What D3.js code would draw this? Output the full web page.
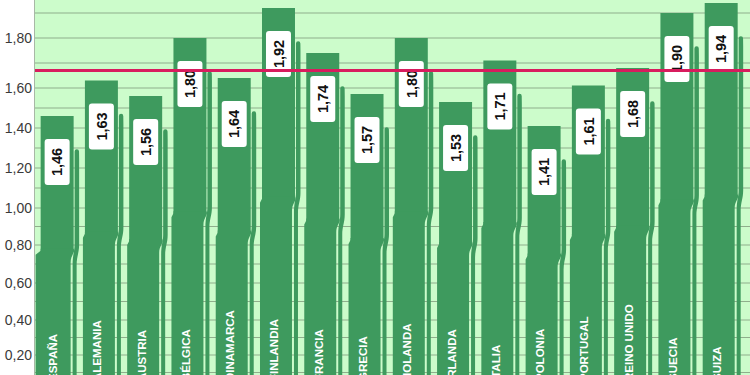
<!DOCTYPE html>
<html>
<head>
<meta charset="utf-8">
<script src="https://cdn.jsdelivr.net/npm/d3@7"></script>
<style>
  html, body { margin: 0; padding: 0; background: #fff; }
  #chart { width: 750px; height: 375px; overflow: hidden; }
  text { font-family: "Liberation Sans", Arial, sans-serif; }
</style>
</head>
<body>
<div id="chart"></div>
<script>
// data
const countries = ["ESPAÑA", "ALEMANIA", "AUSTRIA", "BÉLGICA", "DINAMARCA", "FINLANDIA",
  "FRANCIA", "GRECIA", "HOLANDA", "IRLANDA", "ITALIA", "POLONIA", "PORTUGAL",
  "REINO UNIDO", "SUECIA", "SUIZA"];
const values = [1.46, 1.63, 1.56, 1.80, 1.64, 1.92, 1.74, 1.57, 1.80, 1.53, 1.71,
  1.41, 1.61, 1.68, 1.90, 1.94];
const average = 1.67;
const yTicks = [0.2, 0.4, 0.6, 0.8, 1.0, 1.2, 1.4, 1.6, 1.8];

const width = 750, height = 375;
const fmt = (v) => d3.format(".2f")(v).replace(".", ",");

const svg = d3.select("#chart").append("svg")
  .attr("width", width).attr("height", height);

// the source axis is not evenly spaced, so the scale is piecewise
const y = d3.scaleLinear()
  .domain([0, 0.2, 0.4, 0.6, 0.8, 1.0, 1.2, 1.4, 1.6, 1.8, 2.0])
  .range([390, 355, 320, 283, 245, 208, 168, 128, 88, 38, -12]);

const x = d3.scaleBand()
  .domain(countries)
  .range([35, 35 + 16 * 44.27])
  .paddingInner(0.255)
  .paddingOuter(0.1275);

const bw = x.bandwidth();
const bottom = height;

// plot background
svg.append("rect")
  .attr("x", 34).attr("y", 0)
  .attr("width", width - 34).attr("height", height)
  .attr("fill", "#ccfccb");

// grid every 0.1
const gridVals = d3.range(1, 20).map((i) => i / 10);
svg.append("g").selectAll("line")
  .data(gridVals)
  .join("line")
  .attr("x1", 35).attr("x2", width)
  .attr("y1", (d) => y(d)).attr("y2", (d) => y(d))
  .attr("stroke", "#8fae8c").attr("stroke-width", 1);

svg.append("line")
  .attr("x1", 34.5).attr("x2", 34.5).attr("y1", 0).attr("y2", height)
  .attr("stroke", "#a8b8a6");

// y axis labels
const yAxis = d3.axisLeft(y).tickValues(yTicks).tickFormat(fmt).tickSize(0).tickPadding(3);
const gy = svg.append("g").attr("transform", "translate(35,0)").call(yAxis);
gy.select(".domain").remove();
gy.selectAll("text")
  .attr("font-size", 14)
  .attr("fill", "#3a3a3a")
  .attr("font-family", "Liberation Sans, Arial, sans-serif");

const green = "#3e9a5e";
const rows = countries.map((c, i) => ({ name: c, value: values[i] }));
const neckOf = (T) => T + 0.52 * (bottom - T);

const barGroup = svg.append("g").selectAll(".barGroup")
  .data(rows)
  .join("g")
  .attr("class", "barGroup");

// shadow strip right of each bar, bending in half-way down
barGroup.append("path")
  .attr("fill", green)
  .attr("d", (d) => {
    const L = x(d.name), R = L + bw, T = y(d.value);
    const top = T + 33;
    const neck = neckOf(T);
    const p = d3.path();
    p.moveTo(R - 1, bottom);
    p.lineTo(R - 1, neck + 14);
    p.bezierCurveTo(R - 1, neck + 4, R + 1, neck, R + 1, neck - 6);
    p.lineTo(R + 1, top + 2.5);
    p.arc(R + 3.2, top + 2.5, 2.2, Math.PI, 0);
    p.lineTo(R + 5.5, top + 10);
    p.lineTo(R + 5.5, neck - 6);
    p.bezierCurveTo(R + 5.5, neck + 2, R + 3, neck + 6, R + 3, neck + 14);
    p.lineTo(R + 3, bottom);
    p.closePath();
    return p.toString();
  });

// upper part of the bar
barGroup.append("rect")
  .attr("x", (d) => x(d.name))
  .attr("y", (d) => y(d.value))
  .attr("width", bw)
  .attr("height", (d) => neckOf(y(d.value)) - y(d.value) + 1)
  .attr("fill", green);

// lower, shifted part of the bar
barGroup.append("path")
  .attr("fill", green)
  .attr("d", (d) => {
    const L = x(d.name), R = L + bw, T = y(d.value);
    const neck = neckOf(T);
    const lx = d.name === countries[0] ? L - 5 : L - 2;
    const p = d3.path();
    p.moveTo(lx, bottom);
    p.lineTo(lx, neck + 4);
    p.lineTo(L, neck);
    p.lineTo(L, neck - 2);
    p.lineTo(R, neck - 2);
    p.bezierCurveTo(R + 2, neck + 2, R - 3, neck + 4, R - 3, neck + 12);
    p.lineTo(R - 3, bottom);
    p.closePath();
    return p.toString();
  });

// value labels
const lab = barGroup.append("g")
  .attr("transform", (d) => `translate(${x(d.name) + bw / 2},${y(d.value) + 23})`);

lab.append("rect")
  .attr("x", -12.5).attr("y", 0)
  .attr("width", 25).attr("height", 46)
  .attr("rx", 3)
  .attr("fill", "#fff");

lab.append("text")
  .attr("transform", "translate(0,23) rotate(-90)")
  .attr("text-anchor", "middle")
  .attr("dy", "0.36em")
  .attr("font-size", 14.5)
  .attr("font-weight", "bold")
  .attr("fill", "#111")
  .text((d) => fmt(d.value));

// category labels, rotated, starting just under the bottom edge
barGroup.append("text")
  .attr("transform", (d) => `translate(${x(d.name) + bw / 2},381) rotate(-90)`)
  .attr("text-anchor", "start")
  .attr("font-size", 11.5)
  .attr("font-weight", "bold")
  .attr("fill", "#fff")
  .text((d) => d.name);

// average line
svg.append("line")
  .attr("x1", 35).attr("x2", width)
  .attr("y1", y(average)).attr("y2", y(average))
  .attr("stroke", "#d81c5e")
  .attr("stroke-width", 3);
</script>
</body>
</html>
